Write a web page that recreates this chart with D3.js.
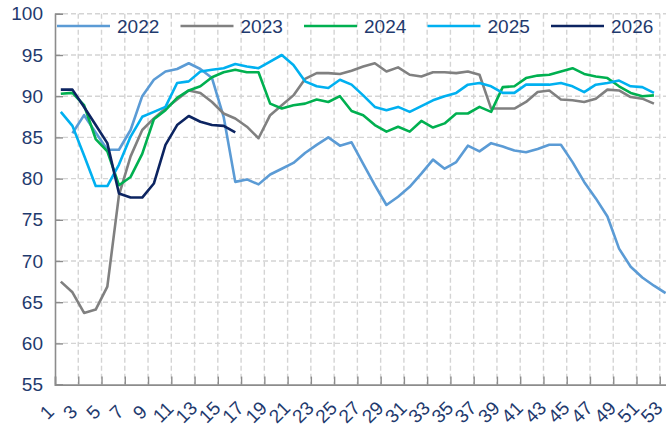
<!DOCTYPE html>
<html><head><meta charset="utf-8">
<script src="https://cdn.jsdelivr.net/npm/d3@7/dist/d3.min.js"></script>
<style>
html,body{margin:0;padding:0;background:#fff;}
svg{display:block;}
text{font-family:"Liberation Sans Narrow","Arial Narrow","Liberation Sans",Arial,sans-serif;}
</style></head>
<body>
<svg id="chart" width="666" height="432"></svg>
<script>
const weeks = d3.range(1, 54);
const seriesNames = ["2022", "2023", "2024", "2025", "2026"];
const seriesColors = ["#5b9bd5", "#808080", "#00b050", "#00b0f0", "#0c2461"];
const yTicks = [55, 60, 65, 70, 75, 80, 85, 90, 95, 100];
const xLabels = weeks.filter(w => w % 2 === 1);

const s2022 = [null, 85.5, 87.7, 85.6, 83.5, 83.5, 85.9, 90.0, 92.0, 93.0, 93.3, 94.0, 93.3, 92.2, 87.5, 79.6, 79.9, 79.3, 80.5, 81.2, 81.9, 83.1, 84.1, 85.0, 84.0, 84.4, 81.8, 79.2, 76.8, 77.8, 79.0, 80.6, 82.3, 81.2, 82.0, 84.0, 83.3, 84.3, 83.9, 83.4, 83.2, 83.6, 84.1, 84.1, 82.0, 79.6, 77.6, 75.4, 71.5, 69.3, 68.0, 67.0, 66.1];
const s2023 = [67.5, 66.2, 63.7, 64.1, 66.9, 78.0, 82.7, 85.9, 87.3, 88.5, 89.6, 90.7, 90.4, 89.3, 87.9, 87.3, 86.3, 84.9, 87.7, 88.9, 90.1, 92.1, 92.8, 92.8, 92.7, 93.1, 93.6, 94.0, 93.0, 93.5, 92.6, 92.4, 92.9, 92.9, 92.8, 93.0, 92.6, 88.5, 88.5, 88.5, 89.3, 90.5, 90.7, 89.6, 89.5, 89.3, 89.7, 90.8, 90.7, 89.9, 89.7, 89.1];
const s2024 = [90.3, 90.4, 88.9, 84.8, 83.3, 79.2, 80.2, 83.0, 87.2, 88.3, 89.8, 90.7, 91.2, 92.3, 92.9, 93.2, 92.9, 92.9, 89.1, 88.5, 88.9, 89.1, 89.6, 89.3, 90.0, 88.2, 87.7, 86.5, 85.7, 86.3, 85.7, 87.0, 86.2, 86.7, 87.9, 87.9, 88.7, 88.1, 91.1, 91.2, 92.2, 92.5, 92.6, 93.0, 93.4, 92.7, 92.4, 92.2, 91.2, 90.4, 90.0, 90.1];
const s2025 = [88.1, 86.4, 82.8, 79.1, 79.1, 81.7, 85.1, 87.5, 88.1, 88.7, 91.6, 91.8, 93.0, 93.2, 93.4, 93.9, 93.6, 93.4, 94.2, 95.0, 93.8, 91.8, 91.2, 91.0, 92.0, 91.4, 90.1, 88.7, 88.3, 88.7, 88.1, 88.8, 89.5, 90.0, 90.4, 91.4, 91.6, 91.2, 90.4, 90.4, 91.4, 91.4, 91.4, 91.6, 91.2, 90.5, 91.4, 91.6, 91.9, 91.2, 91.1, 90.4];
const s2026 = [90.8, 90.8, 88.7, 86.5, 84.3, 78.2, 77.7, 77.7, 79.4, 84.1, 86.5, 87.6, 86.9, 86.5, 86.4, 85.6];

const allSeries = [s2022, s2023, s2024, s2025, s2026];

const svg = d3.select("#chart");
const W = 11.63;
const x = d3.scaleLinear().domain([0.5, 53.5]).range([55, 55 + 53 * W]);
const y = d3.scaleLinear().domain([55, 100]).range([384.6, 13.8]);

const labelColor = "#1f3a6e";
const gridColor = "#d4d4d4";
const axisColor = "#8c8c8c";

// horizontal gridlines
svg.append("g").selectAll("line").data(yTicks.filter(v => v > 55)).join("line")
  .attr("x1", x(0.5)).attr("x2", 666)
  .attr("y1", d => y(d)).attr("y2", d => y(d))
  .attr("stroke", gridColor).attr("stroke-width", 1.4).attr("stroke-dasharray", "5,3");

// vertical gridlines at every second category boundary
const bounds = d3.range(2.5, 53, 2);
svg.append("g").selectAll("line").data(bounds).join("line")
  .attr("x1", d => x(d)).attr("x2", d => x(d))
  .attr("y1", y(100)).attr("y2", y(55))
  .attr("stroke", gridColor).attr("stroke-width", 1.4).attr("stroke-dasharray", "5,3");

// y axis
const yAxis = svg.append("g").attr("transform", `translate(${x(0.5)},0)`)
  .call(d3.axisLeft(y).tickValues(yTicks).tickSize(-8).tickPadding(12));
yAxis.select(".domain").attr("stroke", axisColor).attr("stroke-width", 1.6);
yAxis.selectAll(".tick line").attr("stroke", axisColor).attr("stroke-width", 1.4);
yAxis.selectAll(".tick text").attr("fill", labelColor).attr("font-size", 19)
  .attr("font-family", "'Liberation Sans Narrow','Arial Narrow','Liberation Sans',Arial,sans-serif");

// x axis (ticks at category boundaries)
const xAxis = svg.append("g").attr("transform", `translate(0,${y(55)})`)
  .call(d3.axisBottom(x).tickValues(d3.range(0.5, 54, 2)).tickSize(-8).tickFormat(""));
xAxis.select(".domain").attr("stroke", axisColor).attr("stroke-width", 1.6);
xAxis.selectAll(".tick line").attr("stroke", axisColor).attr("stroke-width", 1.4);

// x labels
svg.append("g").selectAll("text").data(xLabels).join("text")
  .attr("transform", d => `translate(${x(d) - 14},${412}) rotate(-45)`)
  .attr("text-anchor", "middle").attr("dy", "0.35em")
  .attr("fill", labelColor).attr("font-size", 19)
  .text(d => d);

// lines
const line = d3.line()
  .defined(d => d.v != null)
  .x(d => x(d.w)).y(d => y(d.v));

allSeries.forEach((s, i) => {
  const data = s.map((v, j) => ({ w: weeks[j], v }));
  svg.append("path").datum(data)
    .attr("fill", "none").attr("stroke", seriesColors[i])
    .attr("stroke-width", 2.6).attr("stroke-linejoin", "round")
    .attr("d", line);
});

// legend
const lg = svg.append("g");
seriesNames.forEach((n, i) => {
  const x0 = 57 + i * 123.5;
  lg.append("line").attr("x1", x0).attr("x2", x0 + 53).attr("y1", 26).attr("y2", 26)
    .attr("stroke", seriesColors[i]).attr("stroke-width", 2.6);
  lg.append("text").attr("x", x0 + 60).attr("y", 26).attr("dy", "0.35em")
    .attr("fill", labelColor).attr("font-size", 19).text(n);
});
</script>
</body></html>
